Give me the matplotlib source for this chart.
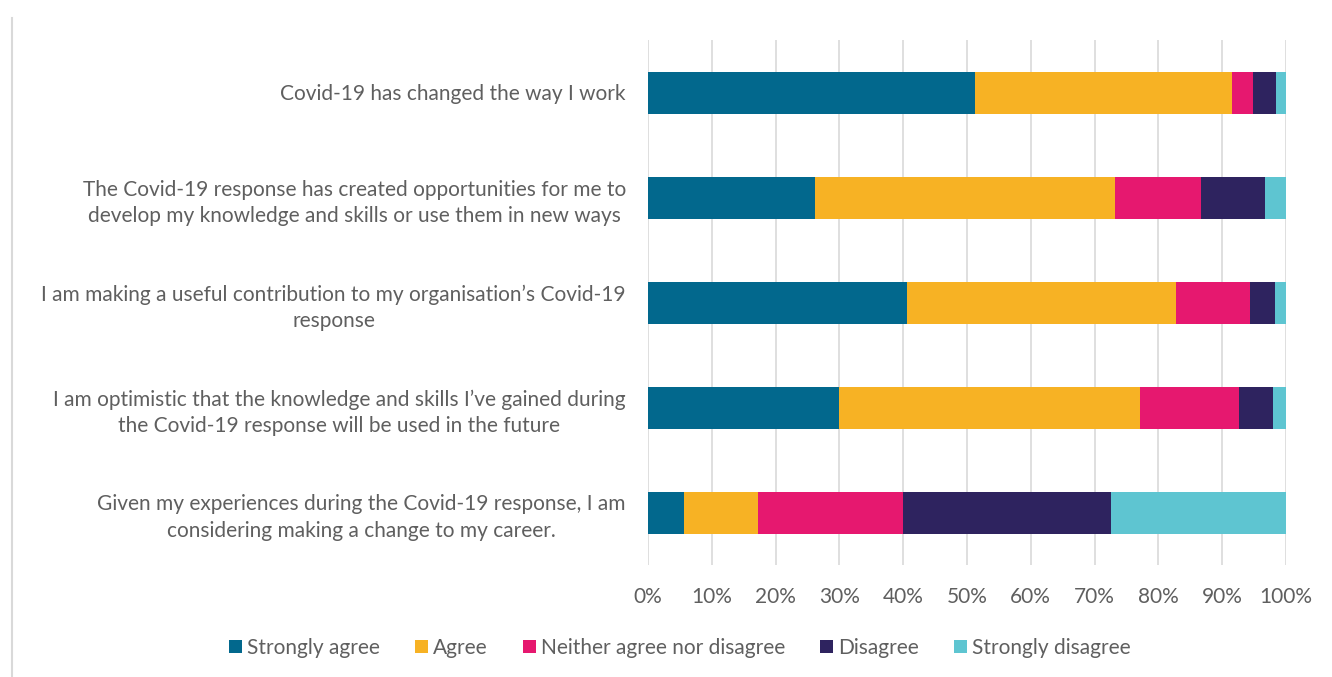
import matplotlib
matplotlib.use("Agg")
import matplotlib.pyplot as plt
import numpy as np

plt.rcParams['font.family'] = ['Lato', 'DejaVu Sans']

statements = [
    "Covid-19 has changed the way I work",
    "The Covid-19 response has created opportunities for me to\ndevelop my knowledge and skills or use them in new ways",
    "I am making a useful contribution to my organisation\u2019s Covid-19\nresponse",
    "I am optimistic that the knowledge and skills I\u2019ve gained during\nthe Covid-19 response will be used in the future",
    "Given my experiences during the Covid-19 response, I am\nconsidering making a change to my career.",
]
responses = ["Strongly agree", "Agree", "Neither agree nor disagree", "Disagree", "Strongly disagree"]

strongly_agree = [51.2, 26.2, 40.6, 29.9, 5.6]
agree = [40.3, 47.0, 42.1, 47.2, 11.7]
neither = [3.3, 13.4, 11.7, 15.5, 22.6]
disagree = [3.6, 10.1, 3.9, 5.4, 32.7]
strongly_disagree = [1.6, 3.3, 1.7, 2.0, 27.4]

colors = ["#02688D", "#F7B224", "#E6186F", "#2E235F", "#5EC5D1"]
text_color = "#5F5F5F"

fig = plt.figure(figsize=(13.32, 6.77), dpi=100)
ax = fig.add_axes([648 / 1332, 1 - 565 / 677, (1286 - 648) / 1332, (565 - 40) / 677])

series = [strongly_agree, agree, neither, disagree, strongly_disagree]
y = np.arange(len(statements))
left = np.zeros(len(statements))
for vals, name, col in zip(series, responses, colors):
    vals = np.array(vals)
    ax.barh(y, vals, left=left, height=0.4, color=col, label=name, zorder=3)
    left += vals

ax.set_xlim(0, 100)
ax.set_ylim(len(statements) - 0.5, -0.5)
ax.set_xticks(np.arange(0, 101, 10))
ax.set_xticklabels([f"{v}%" for v in range(0, 101, 10)])
ax.set_yticks(y)
ax.set_yticklabels(statements, linespacing=1.4)
ax.tick_params(axis='both', length=0, colors=text_color, labelsize=15)
ax.tick_params(axis='x', pad=16)
ax.tick_params(axis='y', pad=16)
for lbl in ax.get_yticklabels():
    lbl.set_horizontalalignment('right')
    lbl.set_multialignment('center')

ax.grid(axis='x', color="#D9D9D9", linewidth=1.2, zorder=0)
for s in ax.spines.values():
    s.set_visible(False)

# thin frame line along the left edge of the chart area
fig.add_artist(plt.Line2D([12 / 1332, 12 / 1332], [0, 1 - 18 / 677],
                          color="#D9D9D9", linewidth=1.5))

leg = fig.legend(loc='center', bbox_to_anchor=(680 / 1332, 1 - 648 / 677), ncol=5,
                 frameon=False, fontsize=15, handlelength=0.6, handleheight=0.6,
                 handletextpad=0.25, columnspacing=1.7, labelcolor=text_color)

fig.savefig("out.png", dpi=100, facecolor="white")
